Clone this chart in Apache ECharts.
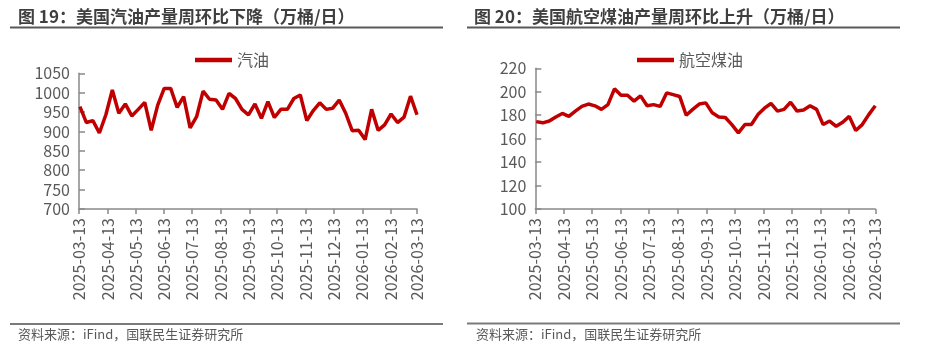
<!DOCTYPE html>
<html>
<head>
<meta charset="utf-8">
<script src="https://cdn.jsdelivr.net/npm/echarts@6/dist/echarts.min.js"></script>
<style>
html,body{margin:0;padding:0;background:#fff;}
#c{width:925px;height:361px;}
</style>
</head>
<body>
<div id="c"></div>
<script>
// ---- data ----
const dates = [
 '2025-03-14','2025-03-21','2025-03-28','2025-04-04','2025-04-11','2025-04-18','2025-04-25',
 '2025-05-02','2025-05-09','2025-05-16','2025-05-23','2025-05-30','2025-06-06','2025-06-13',
 '2025-06-20','2025-06-27','2025-07-04','2025-07-11','2025-07-18','2025-07-25','2025-08-01',
 '2025-08-08','2025-08-15','2025-08-22','2025-08-29','2025-09-05','2025-09-12','2025-09-19',
 '2025-09-26','2025-10-03','2025-10-10','2025-10-17','2025-10-24','2025-10-31','2025-11-07',
 '2025-11-14','2025-11-21','2025-11-28','2025-12-05','2025-12-12','2025-12-19','2025-12-26',
 '2026-01-02','2026-01-09','2026-01-16','2026-01-23','2026-01-30','2026-02-06','2026-02-13',
 '2026-02-20','2026-02-27','2026-03-06','2026-03-13'
];
const gasoline = [
 964, 923, 928, 896, 943, 1007, 947, 971, 940, 957, 975, 903, 968, 1011,
 1011, 962, 990, 909, 938, 1004, 983, 981, 957, 998, 985, 957, 943, 971,
 934, 977, 936, 957, 957, 985, 994, 928, 954, 974, 957, 960, 981, 947,
 902, 903, 879, 957, 903, 917, 945, 923, 937, 991, 943
];
const jetFuel = [
 174.5, 173.5, 175, 178.5, 181.5, 179, 183.5, 187.5, 189.5, 188, 185, 189, 202.5, 197,
 197, 192, 196.5, 188, 189, 187.5, 199, 197.5, 196, 180, 185, 189.5, 190.5, 182,
 178.5, 178, 172, 165, 172, 172, 180.5, 186, 190, 183.5, 185, 191, 183.5, 184.5,
 188, 185, 172, 175, 170.5, 174, 179, 167, 172, 180.5, 188
];
const tickLabels = [
 '2025-03-13','2025-04-13','2025-05-13','2025-06-13','2025-07-13','2025-08-13','2025-09-13',
 '2025-10-13','2025-11-13','2025-12-13','2026-01-13','2026-02-13','2026-03-13'
];
const leftTitle = '图 19：美国汽油产量周环比下降（万桶/日）';
const rightTitle = '图 20：美国航空煤油产量周环比上升（万桶/日）';
const sourceText = '资料来源：iFind，国联民生证券研究所';

// ---- build ----
function ts(s){ const p = s.split('-').map(Number); return Date.UTC(p[0], p[1]-1, p[2]); }
function fmt(v){
  const d = new Date(v);
  const mm = String(d.getUTCMonth()+1).padStart(2,'0');
  const dd = String(d.getUTCDate()).padStart(2,'0');
  return d.getUTCFullYear() + '-' + mm + '-' + dd;
}
const tickVals = tickLabels.map(ts);
const FONT = '"Noto Sans CJK SC", "Noto Sans", sans-serif';
const RED = '#c00000';
const AX = '#898989';
const LAB = '#595959';

function xAxis(gi){
  return {
    type: 'value', gridIndex: gi,
    min: tickVals[0], max: tickVals[tickVals.length-1],
    axisLine: {show: true, onZero: false, lineStyle: {color: AX, width: 1.5}},
    axisTick: {show: true, customValues: tickVals, length: 5, lineStyle: {color: AX, width: 1.5}},
    axisLabel: {
      customValues: tickVals, rotate: 90, margin: 9, fontSize: 16, color: LAB, fontFamily: FONT,
      formatter: function(v){ return fmt(v); }
    },
    splitLine: {show: false}
  };
}
function yAxis(gi, min, max, interval){
  return {
    type: 'value', gridIndex: gi, min: min, max: max, interval: interval,
    axisLine: {show: true, lineStyle: {color: AX, width: 1.5}},
    axisTick: {show: true, inside: true, length: 6, lineStyle: {color: AX, width: 1.5}},
    axisLabel: {fontSize: 16, color: LAB, margin: 9, fontFamily: FONT,
      formatter: function(v){ return String(v); }},
    splitLine: {show: false}
  };
}

const chart = echarts.init(document.getElementById('c'), null, {renderer: 'canvas'});
chart.setOption({
  animation: false,
  backgroundColor: '#fff',
  textStyle: {fontFamily: FONT},
  grid: [
    {left: 79, top: 73.3, width: 338, height: 135.7},
    {left: 535.3, top: 68.3, width: 340, height: 140.7}
  ],
  xAxis: [xAxis(0), xAxis(1)],
  yAxis: [yAxis(0, 700, 1050, 50), yAxis(1, 100, 220, 20)],
  legend: [
    {data: ['汽油'], left: 190, top: 47, icon: 'rect', itemWidth: 37, itemHeight: 4.5, itemGap: 4,
     textStyle: {fontSize: 16, color: LAB, fontFamily: FONT}},
    {data: ['航空煤油'], left: 632, top: 47, icon: 'rect', itemWidth: 37, itemHeight: 4.5, itemGap: 4,
     textStyle: {fontSize: 16, color: LAB, fontFamily: FONT}}
  ],
  series: [
    {name: '汽油', type: 'line', xAxisIndex: 0, yAxisIndex: 0, symbol: 'none',
     lineStyle: {color: RED, width: 3.5}, itemStyle: {color: RED},
     data: dates.map((d, i) => [ts(d), gasoline[i]])},
    {name: '航空煤油', type: 'line', xAxisIndex: 1, yAxisIndex: 1, symbol: 'none',
     lineStyle: {color: RED, width: 3.5}, itemStyle: {color: RED},
     data: dates.map((d, i) => [ts(d), jetFuel[i]])}
  ],
  graphic: [
    {type: 'text', left: 18, top: 8, style: {text: leftTitle, font: 'bold 17px ' + FONT, fill: '#3f3f3f'}},
    {type: 'text', left: 474, top: 8, style: {text: rightTitle, font: 'bold 17px ' + FONT, fill: '#3f3f3f'}},
    {type: 'line', shape: {x1: 10, y1: 27.5, x2: 443, y2: 27.5}, style: {stroke: '#595959', lineWidth: 2}},
    {type: 'line', shape: {x1: 467, y1: 27.5, x2: 900, y2: 27.5}, style: {stroke: '#595959', lineWidth: 2}},
    {type: 'line', shape: {x1: 10, y1: 324, x2: 443, y2: 324}, style: {stroke: '#7a7a7a', lineWidth: 2}},
    {type: 'line', shape: {x1: 467, y1: 323.5, x2: 900, y2: 323.5}, style: {stroke: '#7a7a7a', lineWidth: 2}},
    {type: 'text', left: 18, top: 328, style: {text: sourceText, font: '13px ' + FONT, fill: LAB}},
    {type: 'text', left: 476, top: 328, style: {text: sourceText, font: '13px ' + FONT, fill: LAB}}
  ]
});
</script>
</body>
</html>
